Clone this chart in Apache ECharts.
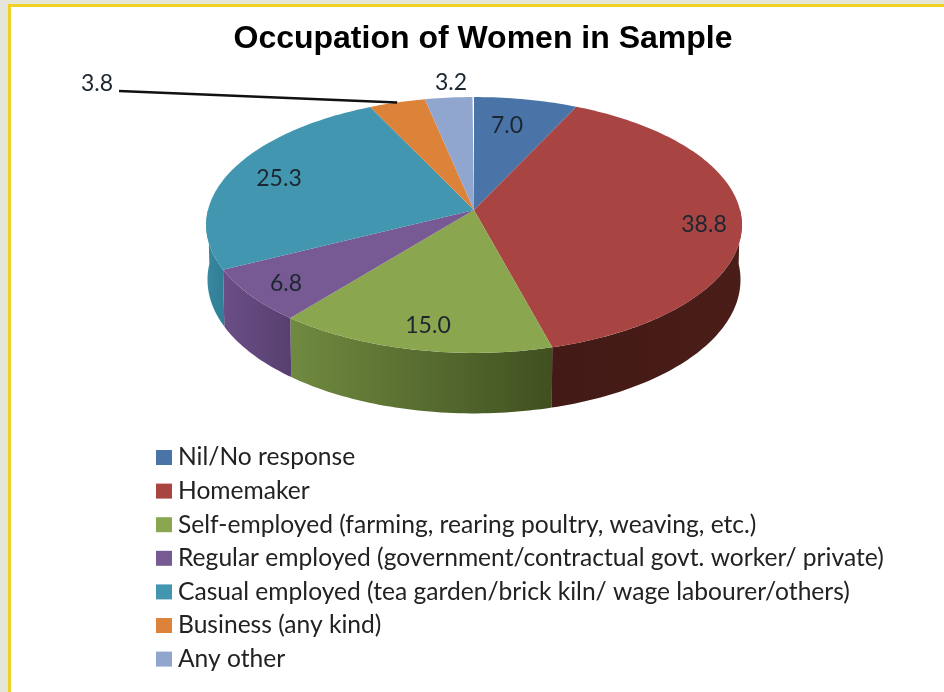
<!DOCTYPE html>
<html>
<head>
<meta charset="utf-8">
<style>html,body{margin:0;padding:0;background:#fff}#c{width:944px;height:692px}</style>
<script src="https://cdn.jsdelivr.net/npm/echarts@6/dist/echarts.min.js"></script>
</head>
<body>
<div id="c"></div>
<script>
const categories = [
  'Nil/No response',
  'Homemaker',
  'Self-employed (farming, rearing poultry, weaving, etc.)',
  'Regular employed (government/contractual govt. worker/ private)',
  'Casual employed (tea garden/brick kiln/ wage labourer/others)',
  'Business (any kind)',
  'Any other'
];
const values = [7.0, 38.8, 15.0, 6.8, 25.3, 3.8, 3.2];
const topColors = ['#4a74a8', '#a84543', '#8aa64e', '#775a93', '#4396af', '#dc8339', '#90a6cf'];
const sideColorsFrom = ['#35547a', '#431a16', '#708a40', '#6a4e85', '#3a88a0', '#a0602a', '#6a7a98'];
const sideColorsTo = ['#35547a', '#4a1d18', '#405020', '#574070', '#2f7e96', '#a0602a', '#6a7a98'];
const labelAnchors = [[507, 126], [704, 225], [428, 326], [286, 284], [279, 179], [97, 84], [451, 83]];
const leaderStart = [119, 91];
const leaderIndex = 5;

const PIE = { cx: 474, apexY: 210, K: 266, a: 101.6, c: -0.117, depthBase: 54, depthTilt: 6.5, bottomScale: 0.995 };
const rad = p => p / 100 * Math.PI * 2;
function project(theta, lower) {
  const X = Math.sin(theta), Y = -Math.cos(theta), w = 1 + PIE.c * Y;
  const s = lower ? PIE.bottomScale : 1;
  const d = lower ? PIE.depthBase + PIE.depthTilt * Y : 0;
  return [PIE.cx + s * PIE.K * X / w, (PIE.a * Y + PIE.apexY) / w + d];
}
function arc(t0, t1, lower) {
  const n = Math.max(2, Math.ceil(Math.abs(t1 - t0) / 0.02));
  const pts = [];
  for (let i = 0; i <= n; i++) pts.push(project(t0 + (t1 - t0) * i / n, lower));
  return pts;
}
const VISIBLE = [rad(25), rad(75)];

let running = 0;
const ranges = values.map(v => { const r = [running, running + v]; running += v; return r; });

function renderSlice(index) {
  return function (params, api) {
    const t0 = rad(api.value(0)), t1 = rad(api.value(1));
    const children = [];
    const s0 = Math.max(t0, VISIBLE[0]), s1 = Math.min(t1, VISIBLE[1]);
    if (s1 > s0) {
      children.push({
        type: 'polygon', z2: 1, silent: true,
        shape: { points: arc(s0, s1, false).concat(arc(s1, s0, true)) },
        style: {
          fill: new echarts.graphic.LinearGradient(0, 0, 1, 0, [
            { offset: 0, color: sideColorsFrom[index] },
            { offset: 1, color: sideColorsTo[index] }
          ])
        }
      });
    }
    children.push({
      type: 'polygon', z2: 5,
      shape: { points: [[PIE.cx, PIE.apexY]].concat(arc(t0, t1, false)) },
      style: { fill: topColors[index] }
    });
    if (index === leaderIndex) {
      const end = project((t0 + t1) / 2, false);
      children.push({
        type: 'line', z2: 8, silent: true,
        shape: { x1: leaderStart[0], y1: leaderStart[1], x2: end[0], y2: end[1] },
        style: { stroke: '#111', lineWidth: 2.6 }
      });
    }
    children.push({
      type: 'text', z2: 9, silent: true,
      x: labelAnchors[index][0], y: labelAnchors[index][1],
      style: {
        text: api.value(2).toFixed(1),
        fill: '#1c2630', font: '23px Lato, sans-serif',
        align: 'center', verticalAlign: 'middle'
      }
    });
    return { type: 'group', children };
  };
}

const chart = echarts.init(document.getElementById('c'), null, { renderer: 'canvas' });
chart.setOption({
  animation: false,
  backgroundColor: '#fff',
  title: {
    text: 'Occupation of Women in Sample', left: 478, top: 18, textAlign: 'center',
    textStyle: { fontFamily: 'Liberation Sans', fontWeight: 'bold', fontSize: 32, color: '#000' }
  },
  legend: {
    orient: 'vertical', left: 151, top: 440, height: 250, itemWidth: 16, itemHeight: 15, itemGap: 8.6,
    icon: 'rect', selectedMode: false,
    data: categories,
    textStyle: { fontFamily: 'Lato', fontSize: 24.6, color: '#222', padding: [0, 0, 0, 1] }
  },
  graphic: [
    { type: 'rect', z: -10, shape: { x: 0, y: 0, width: 944, height: 4 }, style: { fill: '#e6e6d8' } },
    { type: 'rect', z: -10, shape: { x: 0, y: 0, width: 8, height: 692 }, style: { fill: '#e6e6d8' } },
    { type: 'rect', z: -9, shape: { x: 8, y: 4, width: 936, height: 3 }, style: { fill: '#f0d020' } },
    { type: 'rect', z: -9, shape: { x: 8, y: 4, width: 3, height: 688 }, style: { fill: '#f0d020' } }
  ],
  series: categories.map((name, i) => ({
    type: 'custom', name, coordinateSystem: 'none',
    itemStyle: { color: topColors[i] },
    renderItem: renderSlice(i),
    data: [[ranges[i][0], ranges[i][1], values[i]]]
  }))
});
</script>
</body>
</html>
